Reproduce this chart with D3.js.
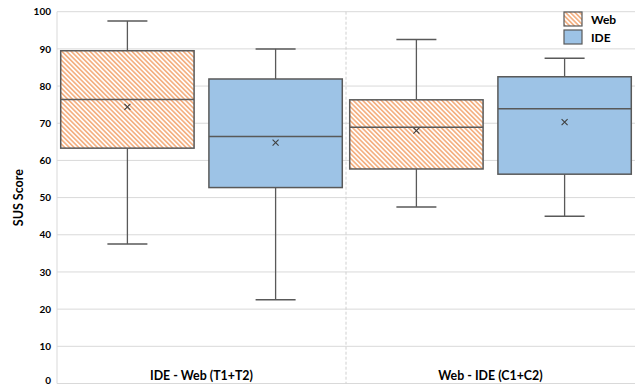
<!DOCTYPE html>
<html>
<head>
<meta charset="utf-8">
<script src="https://cdn.jsdelivr.net/npm/d3@7"></script>
<style>
  html, body { margin: 0; padding: 0; background: #fff; }
  svg { display: block; }
  text { font-family: Lato, "Open Sans", sans-serif; font-weight: bold; fill: #000; }
</style>
</head>
<body>
<svg id="chart" width="637" height="385"></svg>
<script>
const categories = ["IDE - Web (T1+T2)", "Web - IDE (C1+C2)"];
const seriesNames = ["Web", "IDE"];
const yTicks = [0, 10, 20, 30, 40, 50, 60, 70, 80, 90, 100];

// Box statistics per category (order follows categories)
const webMin    = [37.5, 47.5];
const webQ1     = [63.3, 57.7];
const webMedian = [76.4, 68.9];
const webMean   = [74.4, 68.0];
const webQ3     = [89.5, 76.3];
const webMax    = [97.5, 92.5];

const ideMin    = [22.5, 45.0];
const ideQ1     = [52.7, 56.3];
const ideMedian = [66.4, 73.9];
const ideMean   = [64.8, 70.3];
const ideQ3     = [81.9, 82.5];
const ideMax    = [90.0, 87.5];

const boxes = [];
categories.forEach((c, i) => {
  boxes.push({cat: c, series: "Web", min: webMin[i], q1: webQ1[i], med: webMedian[i], mean: webMean[i], q3: webQ3[i], max: webMax[i]});
  boxes.push({cat: c, series: "IDE", min: ideMin[i], q1: ideQ1[i], med: ideMedian[i], mean: ideMean[i], q3: ideQ3[i], max: ideMax[i]});
});

const svg = d3.select("#chart");
const pLeft = 57, pRight = 635, pTop = 11.7, pBottom = 383.5;

const x = d3.scaleBand().domain(categories).range([pLeft, pRight]).padding(0);
const xs = d3.scaleBand().domain(seriesNames).range([0, x.bandwidth()]).paddingInner(0.1).paddingOuter(0.025);
const y = d3.scaleLinear().domain([0, 100]).range([pBottom, pTop]);

// pattern
const defs = svg.append("defs");
const pat = defs.append("pattern")
  .attr("id", "hatch")
  .attr("patternUnits", "userSpaceOnUse")
  .attr("width", 3.3).attr("height", 3.3)
  .attr("patternTransform", "rotate(-45)");
pat.append("rect").attr("width", 3.3).attr("height", 3.3).attr("fill", "#fff");
pat.append("rect").attr("x", 0).attr("y", 0).attr("width", 1.7).attr("height", 3.3).attr("fill", "#f4b183");

const fillFor = s => s === "Web" ? "url(#hatch)" : "#9dc3e6";

// gridlines
svg.append("g").selectAll("line").data(yTicks).join("line")
  .attr("x1", pLeft).attr("x2", pRight)
  .attr("y1", d => y(d)).attr("y2", d => y(d))
  .attr("stroke", "#d9d9d9").attr("stroke-width", 1);

// left axis line
svg.append("line").attr("x1", pLeft).attr("x2", pLeft).attr("y1", pTop).attr("y2", pBottom)
  .attr("stroke", "#d9d9d9");

// category divider
svg.append("line")
  .attr("x1", x(categories[1])).attr("x2", x(categories[1]))
  .attr("y1", pTop).attr("y2", pBottom)
  .attr("stroke", "#d0d0d0").attr("stroke-dasharray", "3,2");

// y axis labels
const yAxis = d3.axisLeft(y).tickValues(yTicks).tickSize(0).tickPadding(6);
const ga = svg.append("g").attr("transform", `translate(${pLeft},0)`).call(yAxis);
ga.select(".domain").remove();
ga.selectAll("text").style("font-family", "Lato, sans-serif").style("font-weight", "bold")
  .style("font-size", "10px").attr("fill", "#000");
// keep the bottom label inside the picture
ga.selectAll(".tick").filter(d => d === 0).select("text").attr("y", -3.5);

// y title
svg.append("text")
  .attr("transform", `translate(23,${(pTop + pBottom) / 2}) rotate(-90)`)
  .attr("text-anchor", "middle")
  .style("font-size", "12.5px")
  .text("SUS Score");

// category labels
svg.append("g").selectAll("text").data(categories).join("text")
  .attr("x", d => x(d) + x.bandwidth() / 2)
  .attr("y", 379.5)
  .attr("text-anchor", "middle")
  .style("font-size", "12.4px")
  .text(d => d);

// boxes
const stroke = "#595959";
const g = svg.append("g").selectAll("g").data(boxes).join("g")
  .attr("transform", d => `translate(${x(d.cat) + xs(d.series)},0)`);
const bw = xs.bandwidth();
const cx = bw / 2, cap = bw * 0.3;

g.append("line").attr("x1", cx).attr("x2", cx).attr("y1", d => y(d.max)).attr("y2", d => y(d.q3))
  .attr("stroke", stroke).attr("stroke-width", 1.3);
g.append("line").attr("x1", cx).attr("x2", cx).attr("y1", d => y(d.q1)).attr("y2", d => y(d.min))
  .attr("stroke", stroke).attr("stroke-width", 1.3);
g.append("line").attr("x1", cx - cap / 2).attr("x2", cx + cap / 2).attr("y1", d => y(d.max)).attr("y2", d => y(d.max))
  .attr("stroke", stroke).attr("stroke-width", 1.5);
g.append("line").attr("x1", cx - cap / 2).attr("x2", cx + cap / 2).attr("y1", d => y(d.min)).attr("y2", d => y(d.min))
  .attr("stroke", stroke).attr("stroke-width", 1.5);
g.append("rect").attr("x", 0).attr("width", bw)
  .attr("y", d => y(d.q3)).attr("height", d => y(d.q1) - y(d.q3))
  .attr("fill", d => fillFor(d.series)).attr("stroke", stroke).attr("stroke-width", 1.5);
g.append("line").attr("x1", 0).attr("x2", bw).attr("y1", d => y(d.med)).attr("y2", d => y(d.med))
  .attr("stroke", stroke).attr("stroke-width", 1.5);
const m = 3;
g.append("path")
  .attr("d", d => `M${cx - m},${y(d.mean) - m}L${cx + m},${y(d.mean) + m}M${cx - m},${y(d.mean) + m}L${cx + m},${y(d.mean) - m}`)
  .attr("stroke", "#404040").attr("stroke-width", 1.1).attr("fill", "none");

// legend
const lg = svg.append("g").selectAll("g").data(seriesNames).join("g")
  .attr("transform", (d, i) => `translate(564,${12 + i * 18})`);
lg.append("rect").attr("width", 18).attr("height", 14)
  .attr("fill", d => fillFor(d)).attr("stroke", stroke).attr("stroke-width", 1.2);
lg.append("text").attr("x", 27).attr("y", 11.5).style("font-size", "12px").text(d => d);
</script>
</body>
</html>
